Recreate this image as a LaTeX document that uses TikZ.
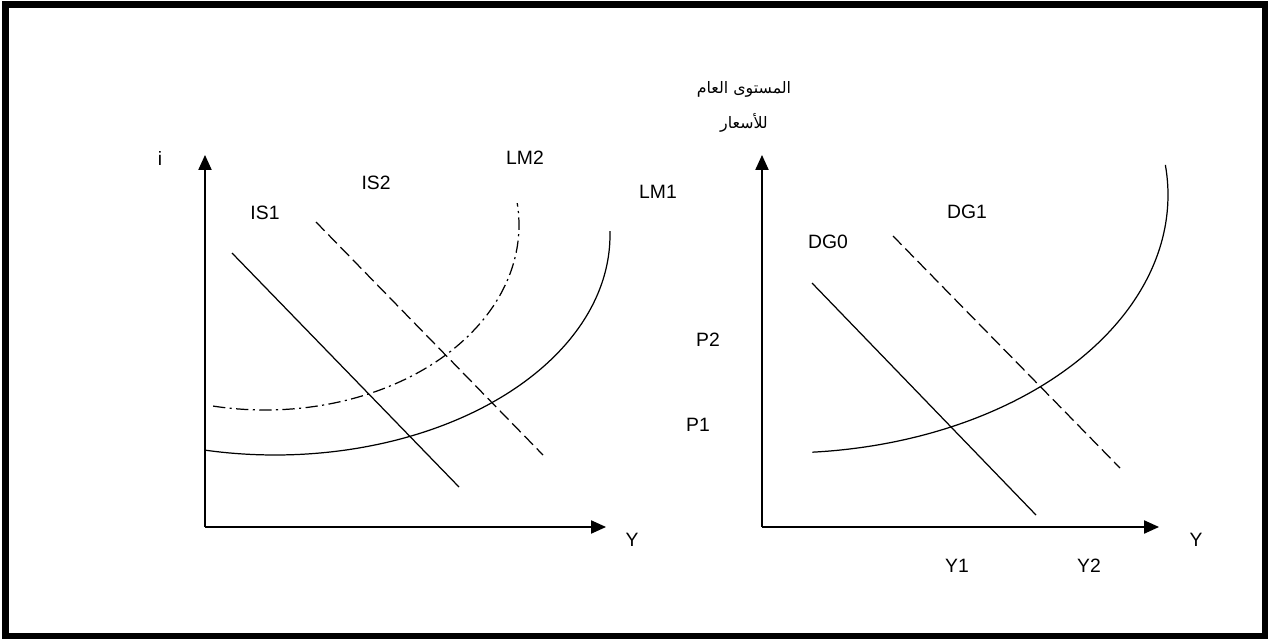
\documentclass[tikz,border=0pt]{standalone}
\usepackage{fontspec}
\setmainfont{Liberation Sans}
\newfontfamily\arabicfont[Script=Arabic]{DejaVu Sans}
\TeXXeTstate=1
\usepackage{tikz}
\usetikzlibrary{arrows.meta}

\begin{document}
\begin{tikzpicture}[
  x=0.02cm,y=-0.02cm,
  axis/.style={-{Triangle[length=8.5pt,width=7.5pt]},line width=0.8pt},
  curva/.style={line width=0.7pt},
  rotulo/.style={font=\fontsize{11}{13}\selectfont,inner sep=0pt},
  arabe/.style={font=\arabicfont\fontsize{9}{10}\selectfont,inner sep=0pt,align=center},
  cortada/.style={curva,dash pattern=on 7pt off 3pt},
  puntoraya/.style={curva,dash pattern=on 7pt off 2.5pt on 1.2pt off 2.5pt}
]
\useasboundingbox (0,0) rectangle (1268,639);
\draw[line width=4.5pt] (5.5,4.5) rectangle (1266,636.5);

% Grafico IS-LM (izquierda)
\coordinate (o1) at (205,527);
\coordinate (ya) at (205,155);
\coordinate (xa) at (606,527);
\draw[axis] (o1) -- (ya);
\draw[axis] (o1) -- (xa);
\node[rotulo] (ei) at (160,158) {i};
\node[rotulo] (ey) at (632,540) {Y};

\coordinate (is1a) at (232,253);
\coordinate (is1b) at (459,487);
\coordinate (is2a) at (316,222);
\coordinate (is2b) at (543,455);
\draw[curva] (is1a) -- (is1b);
\draw[cortada] (is2a) -- (is2b);

% LM1 y LM2 (arcos de elipse)
\draw[curva] plot[domain=101.9:-1,samples=80,smooth] ({275+335*cos(\x)},{235+220*sin(\x)});
\draw[puntoraya] plot[domain=101.8:-6.8,samples=80,smooth] ({265+254*cos(\x)},{225+185*sin(\x)});

\node[rotulo] (is1) at (265,213) {IS1};
\node[rotulo] (is2) at (376,183) {IS2};
\node[rotulo] (lm2) at (525,158) {LM2};
\node[rotulo] (lm1) at (658,192) {LM1};

% Grafico DG (derecha)
\coordinate (o2) at (762,527);
\coordinate (yb) at (762,155);
\coordinate (xb) at (1159,527);
\draw[axis] (o2) -- (yb);
\draw[axis] (o2) -- (xb);
\node[arabe] (ep) at (744,107) {\beginR المستوى العام\endR\\[8pt]\beginR للأسعار\endR};
\node[rotulo] (ey2) at (1196,540) {Y};
\node[rotulo] (p2) at (708,340) {P2};
\node[rotulo] (p1) at (698,425) {P1};
\node[rotulo] (y1) at (957,566) {Y1};
\node[rotulo] (y2) at (1089,566) {Y2};

\coordinate (dg0a) at (812,283);
\coordinate (dg0b) at (1036,515);
\coordinate (dg1a) at (893,236);
\coordinate (dg1b) at (1120,468);
\draw[curva] (dg0a) -- (dg0b);
\draw[cortada] (dg1a) -- (dg1b);

% oferta global
\draw[curva] plot[domain=85.5:-6.7,samples=80,smooth] ({782+386*cos(\x)},{195+258*sin(\x)});

\node[rotulo] (dg0) at (828,242) {DG0};
\node[rotulo] (dg1) at (967,212) {DG1};

\end{tikzpicture}
\end{document}
